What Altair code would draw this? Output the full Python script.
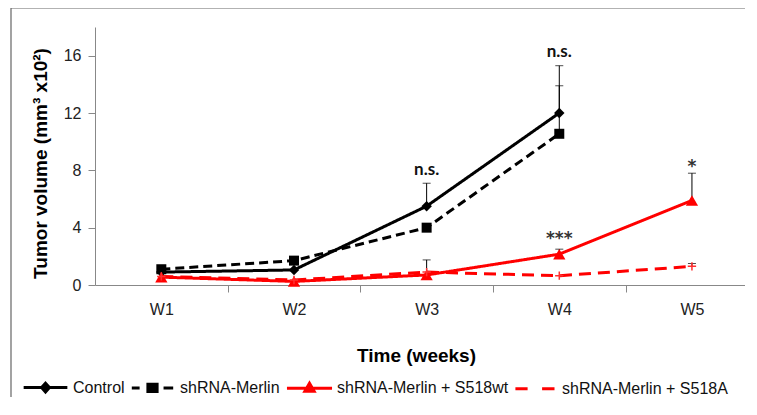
import altair as alt
import pandas as pd

# ---------------- data ----------------
series_names = ["Control", "shRNA-Merlin", "shRNA-Merlin + S518wt", "shRNA-Merlin + S518A"]
week_labels = ["W1", "W2", "W3", "W4", "W5"]

control_weeks = [1, 2, 3, 4]
control_vals = [0.9, 1.05, 5.5, 12.0]
shrna_weeks = [1, 2, 3, 4]
shrna_vals = [1.1, 1.7, 4.0, 10.55]
wt_weeks = [1, 2, 3, 4, 5]
wt_vals = [0.55, 0.25, 0.7, 2.15, 5.9]
a_weeks = [1, 2, 3, 4, 5]
a_vals = [0.6, 0.35, 0.9, 0.65, 1.3]

# upper error bars
err_weeks = [3, 4, 4, 3, 4, 5, 5]
err_series = ["Control", "Control", "shRNA-Merlin", "shRNA-Merlin + S518wt",
              "shRNA-Merlin + S518wt", "shRNA-Merlin + S518wt", "shRNA-Merlin + S518A"]
err_low = [5.5, 12.0, 10.55, 0.7, 2.15, 5.9, 1.3]
err_high = [7.1, 15.3, 13.9, 1.75, 2.5, 7.8, 1.5]

# significance annotations
ann_weeks = [3, 4]
ann_text = ["n.s.", "n.s."]
ann_y = [8.0, 16.25]
star_weeks = [4, 5]
star_text = ["***", "*"]
star_y = [3.2, 8.2]

# ---------------- tables ----------------
rows = []
for name, wks, vals in [(series_names[0], control_weeks, control_vals),
                        (series_names[1], shrna_weeks, shrna_vals),
                        (series_names[2], wt_weeks, wt_vals),
                        (series_names[3], a_weeks, a_vals)]:
    for w, v in zip(wks, vals):
        rows.append({"series": name, "week": w, "value": v})
df = pd.DataFrame(rows)
err_df = pd.DataFrame({"week": err_weeks, "series": err_series, "low": err_low, "high": err_high})
ann_df = pd.DataFrame({"week": ann_weeks, "label": ann_text, "y": ann_y})
star_df = pd.DataFrame({"week": star_weeks, "label": star_text, "y": star_y})

colors = ["#000000", "#000000", "#ff0000", "#ff0000"]
dashes = [[1, 0], [9, 5], [1, 0], [12, 7]]
# legend glyphs: line + marker, drawn in a [-1, 1] box (stroked only)
legend_paths = [
    "M-0.95,0L0.95,0M0,-0.19L0.17,0L0,0.19L-0.17,0ZM0,-0.08L0.07,0L0,0.08L-0.07,0Z",
    "M-0.9,0L-0.56,0M0.48,0L0.9,0M-0.2,-0.16L0.2,-0.16L0.2,0.16L-0.2,0.16ZM-0.08,-0.05L0.08,-0.05L0.08,0.05L-0.08,0.05Z",
    "M-0.98,0L0.98,0M0,-0.22L0.2,0.12L-0.2,0.12ZM0,-0.08L0.07,0.06L-0.07,0.06Z",
    "M-0.83,0L-0.3,0M0.33,0L0.87,0",
]

FONT = "Liberation Sans"

x_scale = alt.Scale(domain=[0.5, 5.4], nice=False, zero=False)
y_scale = alt.Scale(domain=[0, 18], nice=False)

x_axis = alt.Axis(
    values=[1, 1.5, 2, 2.5, 3, 3.5, 4, 4.5, 5],
    labelExpr="datum.value % 1 == 0 ? 'W' + datum.value : ''",
    tickOpacity={"condition": {"test": "datum.value % 1 == 0", "value": 0}, "value": 1},
    labelOverlap=False, labelFlush=False, grid=False,
    title="Time (weeks)", titleX=321, titleY=70, titleBaseline="middle", titleAlign="center",
    titleFont=FONT, titleFontSize=19, titleFontWeight="bold", titleColor="#000000",
    labelFont=FONT, labelFontSize=16, labelColor="#222222", labelPadding=9,
    tickSize=7, tickColor="#888888", domainColor="#888888",
)
y_axis = alt.Axis(
    values=[0, 4, 8, 12, 16], grid=False,
    title="Tumor volume (mm³ x10²)", titleX=-55, titleY=136, titleAngle=-90,
    titleBaseline="middle", titleAlign="center",
    titleFont=FONT, titleFontSize=19, titleFontWeight="bold", titleColor="#000000",
    labelFont=FONT, labelFontSize=16, labelColor="#222222", labelPadding=7,
    tickSize=7, tickColor="#888888", domainColor="#888888",
)

legend_def = alt.Legend(title=None)

base = alt.Chart(df)

lines = base.mark_line(strokeWidth=3).encode(
    x=alt.X("week:Q", scale=x_scale, axis=x_axis),
    y=alt.Y("value:Q", scale=y_scale, axis=y_axis),
    color=alt.Color("series:N", scale=alt.Scale(domain=series_names, range=colors), legend=None),
    strokeDash=alt.StrokeDash("series:N", scale=alt.Scale(domain=series_names, range=dashes), legend=None),
    detail="series:N",
)

err_rules = alt.Chart(err_df).mark_rule(color="#000000", strokeWidth=1).encode(
    x="week:Q", y="low:Q", y2="high:Q",
)
err_caps = alt.Chart(err_df).mark_tick(color="#000000", orient="horizontal", size=8, thickness=1).encode(
    x="week:Q", y="high:Q",
)


def pts(name, **mark):
    return base.transform_filter(alt.datum.series == name).mark_point(**mark).encode(
        x="week:Q", y="value:Q"
    )


p_ctrl = pts(series_names[0], shape="diamond", filled=True, color="#000000", size=110, opacity=1)
p_sh = pts(series_names[1], shape="square", filled=True, color="#000000", size=100, opacity=1)
p_wt = pts(series_names[2], shape="triangle-up", filled=True, color="#ff0000", size=150, opacity=1)
p_a = pts(series_names[3], shape="M-1,0L1,0M0,-1L0,1", filled=False, color="#ff3030",
          size=70, strokeWidth=1.5, opacity=1)

# legend-only layer: zero-size marks, the legend symbols get their size from the legend config
legend_layer = base.mark_point(filled=False, size=0, strokeWidth=3, opacity=1).encode(
    x="week:Q", y="value:Q",
    color=alt.Color("series:N", scale=alt.Scale(domain=series_names, range=colors), legend=legend_def),
    shape=alt.Shape("series:N", scale=alt.Scale(domain=series_names, range=legend_paths), legend=legend_def),
)

ann = alt.Chart(ann_df).mark_text(font="Lato", fontWeight="bold", fontSize=17, baseline="middle",
                                  color="#111111").encode(
    x="week:Q", y="y:Q", text="label:N",
)
stars = alt.Chart(star_df).mark_text(font="DejaVu Sans", fontWeight="bold", fontSize=17, baseline="middle",
                                     color="#333333").encode(
    x="week:Q", y="y:Q", text="label:N",
)

frame_df = pd.DataFrame({"k": [0]})
frame = alt.Chart(frame_df).mark_rect(fill="transparent", stroke="#666666", strokeWidth=1.2).encode(
    x=alt.value(-84), x2=alt.value(720), y=alt.value(-19), y2=alt.value(420)
)

chart = alt.layer(
    frame, lines, err_rules, err_caps, p_ctrl, p_sh, p_wt, p_a, ann, stars, legend_layer
).resolve_scale(
    color="independent", shape="independent"
).properties(
    width=650, height=258,
    padding={"left": 87, "top": 19, "right": 0, "bottom": 112},
    autosize=alt.AutoSizeParams(type="none"),
    background="#ffffff",
).configure_view(
    stroke=None
).configure_legend(
    orient="none", legendX=-74, legendY=336, direction="horizontal",
    symbolSize=2116, symbolStrokeWidth=3, symbolOpacity=1,
    labelFont=FONT, labelFontSize=16, labelColor="#111111", labelLimit=400,
    labelOffset=3, columnPadding=0, padding=0,
)

chart.save("out.html", embed_options={"renderer": "svg", "actions": False})
